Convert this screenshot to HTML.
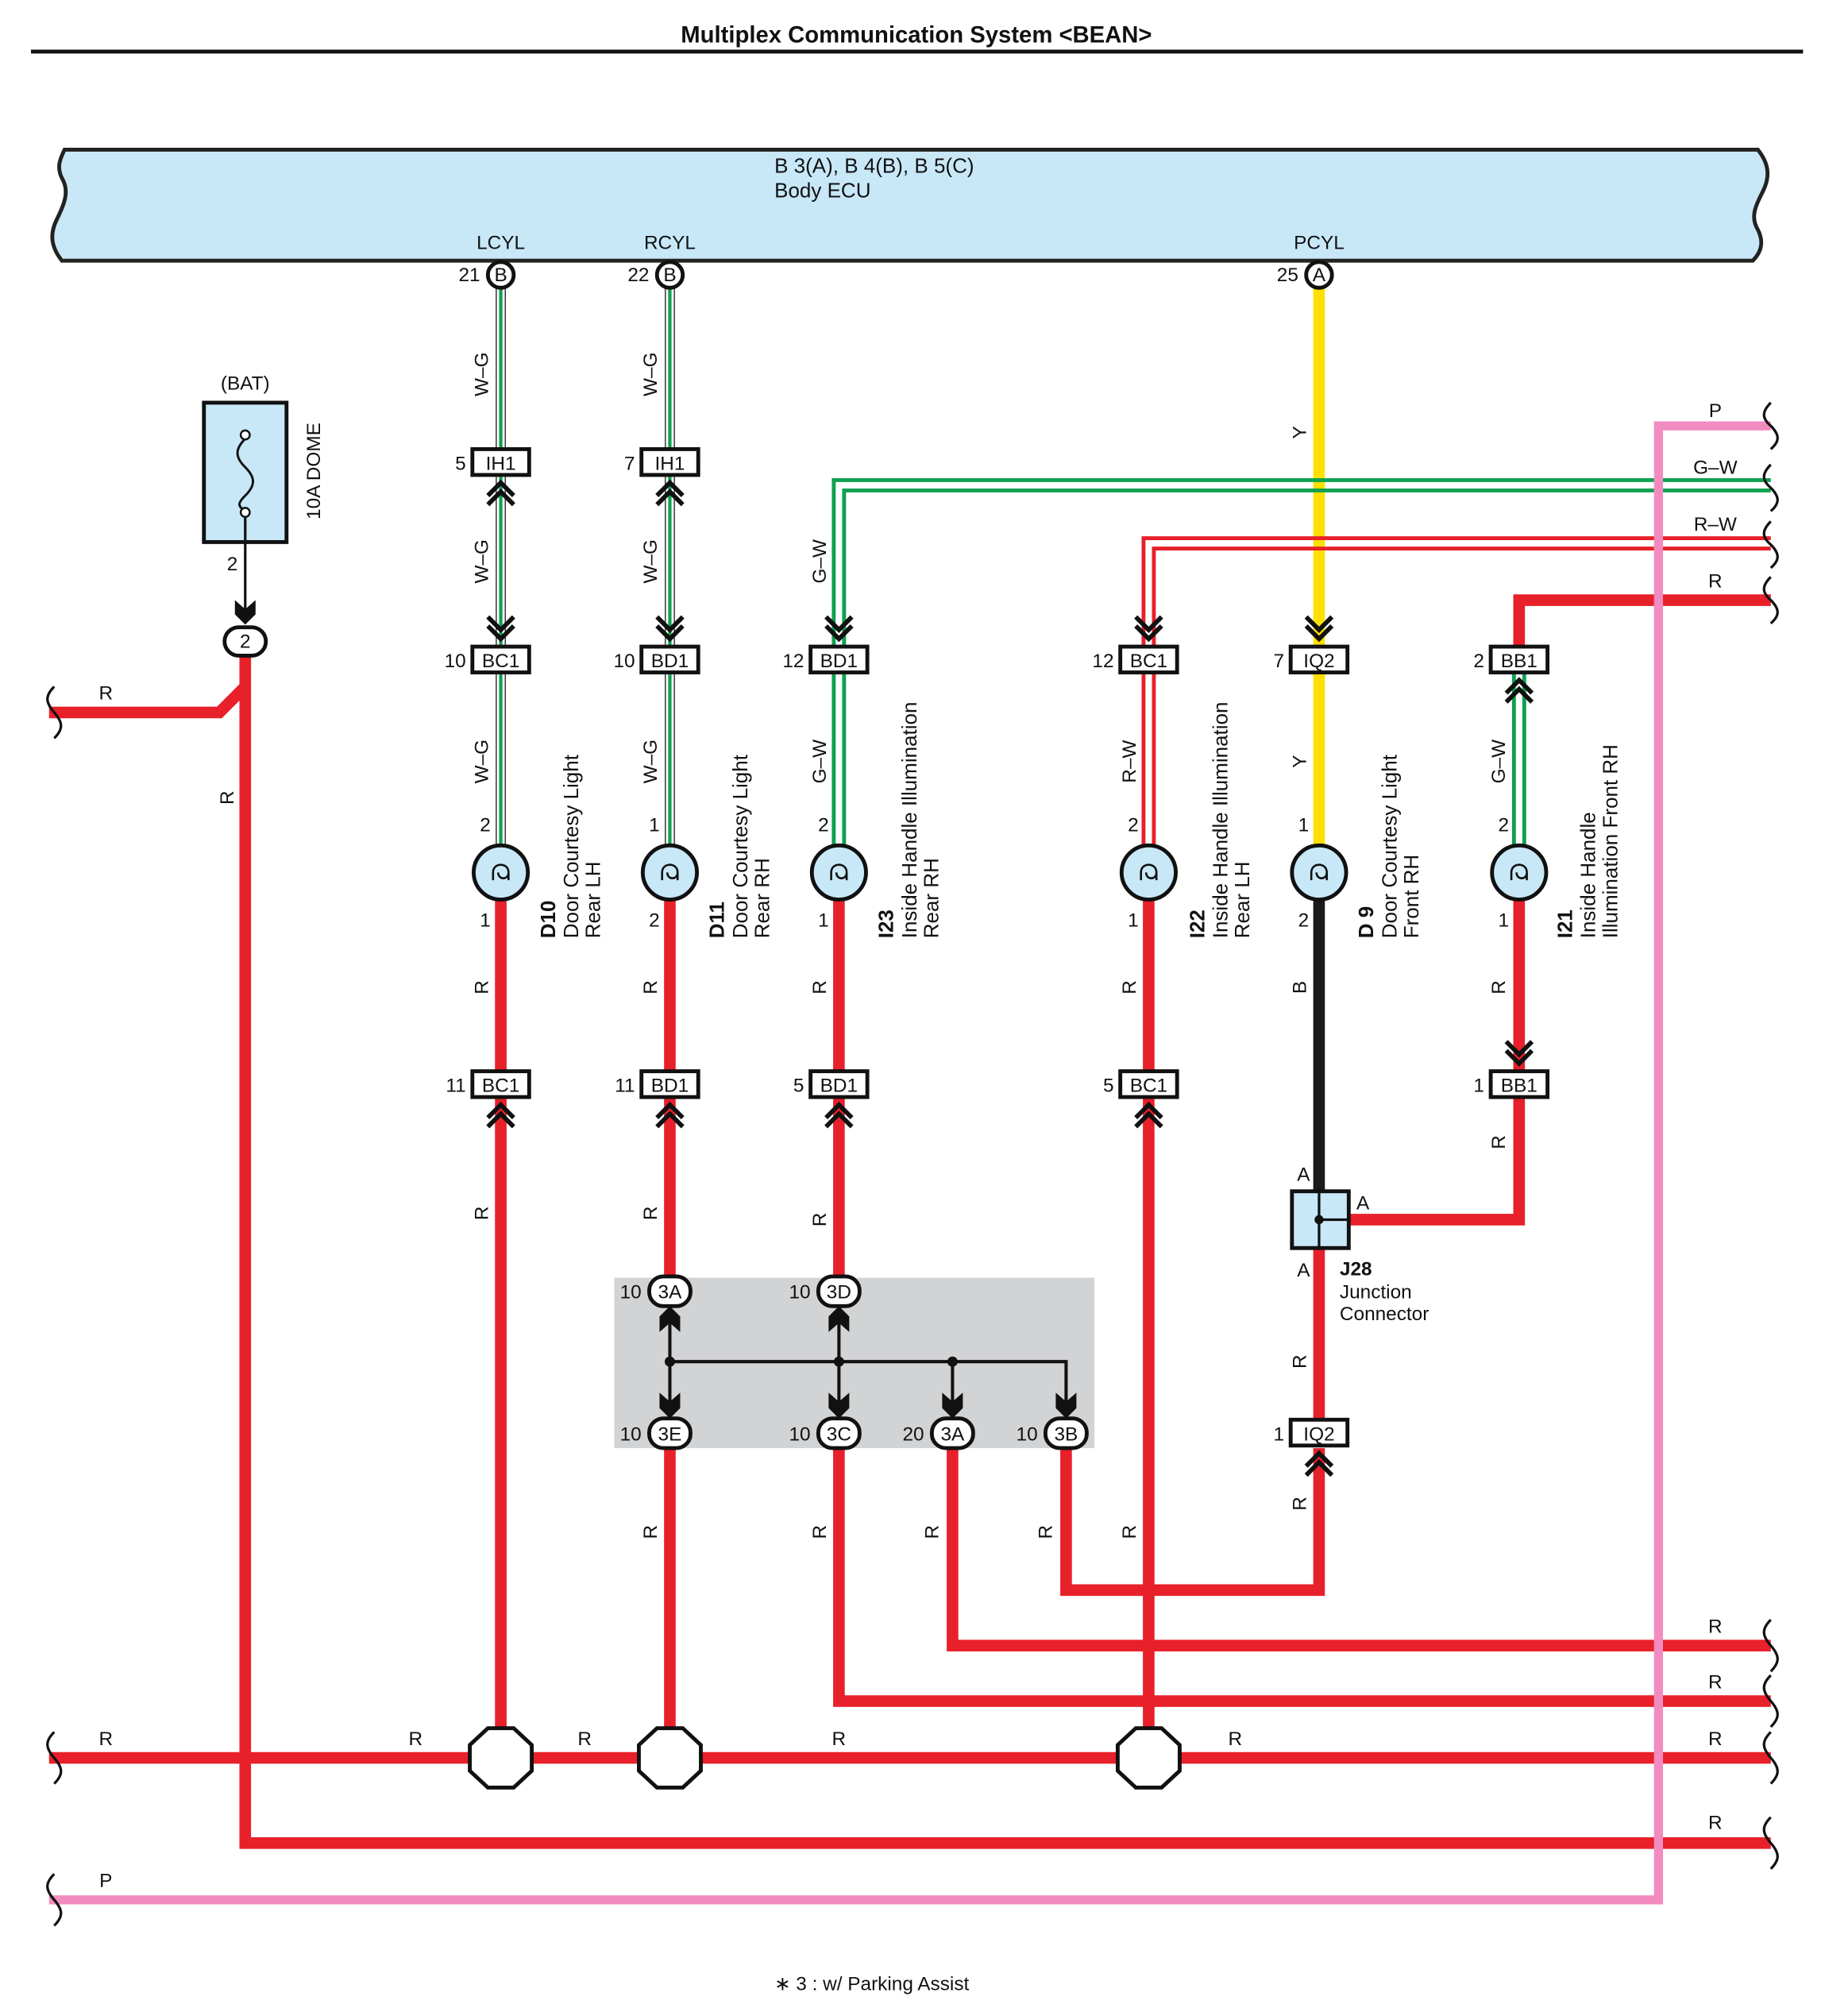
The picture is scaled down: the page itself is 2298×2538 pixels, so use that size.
<!DOCTYPE html>
<html><head><meta charset="utf-8">
<style>
html,body{margin:0;padding:0;background:#fff;}
svg{display:block;}
text{font-family:"Liberation Sans",sans-serif;fill:#111;}
[font-size="14"]{font-size:15px;}
[font-size="15"]{font-size:16px;}
</style></head>
<body>
<svg width="2298" height="2538" viewBox="0 0 1414 1562" preserveAspectRatio="none" xmlns="http://www.w3.org/2000/svg">
<rect width="1414" height="1562" fill="#fff"/>
<text x="710" y="33" font-size="18" font-weight="bold" text-anchor="middle">Multiplex Communication System &lt;BEAN&gt;</text>
<line x1="24" y1="40" x2="1397" y2="40" stroke="#111" stroke-width="3"/>

<path d="M50,116 H1362 c8,10 10,20 4,32 c-6,12 -10,20 -4,30 c4,8 4,16 -4,24 H48 c-8,-10 -10,-20 -4,-32 c6,-12 10,-22 4,-32 c-4,-8 -2,-14 2,-22 Z" fill="#c8e8f8" stroke="#222" stroke-width="3"/>
<text x="600" y="134" font-size="15">B 3(A), B 4(B), B 5(C)</text>
<text x="600" y="153" font-size="15">Body ECU</text>
<text x="388" y="193" font-size="14" text-anchor="middle">LCYL</text>
<text x="519" y="193" font-size="14" text-anchor="middle">RCYL</text>
<text x="1022" y="193" font-size="14" text-anchor="middle">PCYL</text>

<rect x="476" y="990" width="372" height="132" fill="#d2d3d5"/>

<g fill="none" stroke-linejoin="miter">
<g stroke="#e8202a" stroke-width="9">
<path d="M38,552 H170 L190,532"/>
<path d="M190,508 V1428 H1372"/>
<path d="M38,1362 H1372"/>
<path d="M388,698 V1362"/>
<path d="M890,698 V1362"/>
<path d="M519,698 V990"/>
<path d="M519,1122 V1362"/>
<path d="M650,698 V990"/>
<path d="M650,1122 V1318 H1372"/>
<path d="M738,1122 V1275 H1372"/>
<path d="M826,1122 V1232 H1022 V1122"/>
<path d="M1022,967 V1100"/>
<path d="M1045,945 H1177 V850"/>
<path d="M1372,465 H1177 V501"/>
<path d="M1177,698 V830"/>
</g>
<path d="M1022,223 V655" stroke="#ffe000" stroke-width="9"/>
<path d="M1022,698 V923" stroke="#1a1a1a" stroke-width="9"/>
<g>
<path d="M384.5,223 V655 M391.5,223 V655" stroke="#333" stroke-width="0.9"/>
<path d="M388,223 V655" stroke="#10a050" stroke-width="2.6"/>
<path d="M515.5,223 V655 M522.5,223 V655" stroke="#333" stroke-width="0.9"/>
<path d="M519,223 V655" stroke="#10a050" stroke-width="2.6"/>
</g>
<g stroke="#10a050" stroke-width="3">
<path d="M1372,372 H646 V501"/>
<path d="M1372,380 H654 V501"/>
<path d="M646,521 V657 M654,521 V657"/>
<path d="M1173,521 V657 M1181,521 V657"/>
</g>
<g stroke="#e8202a" stroke-width="3">
<path d="M1372,417 H886 V501"/>
<path d="M1372,425 H894 V501"/>
<path d="M886,521 V657 M894,521 V657"/>
</g>
<path d="M1372,330 H1285 V1472 H38" stroke="#f28cc0" stroke-width="7"/>
<g stroke="#111" stroke-width="2.5">
<path d="M519,1020 V1090 M650,1020 V1090 M519,1055 H826 V1090 M738,1055 V1090"/>
</g>
</g>
<g fill="#111">
<circle cx="519" cy="1055" r="4"/><circle cx="650" cy="1055" r="4"/><circle cx="738" cy="1055" r="4"/>
<polygon points="519,1012 527,1020 527,1032 519,1025 511,1032 511,1020"/>
<polygon points="650,1012 658,1020 658,1032 650,1025 642,1032 642,1020"/>
<polygon points="519,1099 527,1091 527,1079 519,1086 511,1079 511,1091"/>
<polygon points="650,1099 658,1091 658,1079 650,1086 642,1079 642,1091"/>
<polygon points="738,1099 746,1091 746,1079 738,1086 730,1079 730,1091"/>
<polygon points="826,1099 834,1091 834,1079 826,1086 818,1079 818,1091"/>
</g>

<g stroke="#111" stroke-width="3" fill="#fff">
<circle cx="388" cy="213" r="10"/><circle cx="519" cy="213" r="10"/><circle cx="1022" cy="213" r="10"/>
</g>
<g font-size="14" text-anchor="middle">
<text x="388" y="218">B</text><text x="519" y="218">B</text><text x="1022" y="218">A</text>
</g>
<g font-size="14" text-anchor="end">
<text x="372" y="218">21</text><text x="503" y="218">22</text><text x="1006" y="218">25</text>
</g>

<g stroke="#111" stroke-width="3" fill="#fff">
<rect x="366" y="348" width="44" height="20"/>
<rect x="497" y="348" width="44" height="20"/>
<rect x="366" y="501" width="44" height="20"/>
<rect x="497" y="501" width="44" height="20"/>
<rect x="628" y="501" width="44" height="20"/>
<rect x="868" y="501" width="44" height="20"/>
<rect x="1000" y="501" width="44" height="20"/>
<rect x="1155" y="501" width="44" height="20"/>
<rect x="366" y="830" width="44" height="20"/>
<rect x="497" y="830" width="44" height="20"/>
<rect x="628" y="830" width="44" height="20"/>
<rect x="868" y="830" width="44" height="20"/>
<rect x="1155" y="830" width="44" height="20"/>
<rect x="1000" y="1100" width="44" height="20"/>
</g>
<g font-size="14" text-anchor="middle">
<text x="388" y="364">IH1</text><text x="519" y="364">IH1</text>
<text x="388" y="517">BC1</text><text x="519" y="517">BD1</text><text x="650" y="517">BD1</text><text x="890" y="517">BC1</text><text x="1022" y="517">IQ2</text><text x="1177" y="517">BB1</text>
<text x="388" y="846">BC1</text><text x="519" y="846">BD1</text><text x="650" y="846">BD1</text><text x="890" y="846">BC1</text><text x="1177" y="846">BB1</text>
<text x="1022" y="1116">IQ2</text>
</g>
<g font-size="14" text-anchor="end">
<text x="361" y="364">5</text><text x="492" y="364">7</text>
<text x="361" y="517">10</text><text x="492" y="517">10</text><text x="623" y="517">12</text><text x="863" y="517">12</text><text x="995" y="517">7</text><text x="1150" y="517">2</text>
<text x="361" y="846">11</text><text x="492" y="846">11</text><text x="623" y="846">5</text><text x="863" y="846">5</text><text x="1150" y="846">1</text>
<text x="995" y="1116">1</text>
</g>

<g fill="none" stroke="#111" stroke-width="3.5">
<path d="M378,384 L388,374 L398,384 M378,391 L388,381 L398,391"/>
<path d="M509,384 L519,374 L529,384 M509,391 L519,381 L529,391"/>
<path d="M1167,537 L1177,527 L1187,537 M1167,544 L1177,534 L1187,544"/>
<path d="M378,866 L388,856 L398,866 M378,873 L388,863 L398,873"/>
<path d="M509,866 L519,856 L529,866 M509,873 L519,863 L529,873"/>
<path d="M640,866 L650,856 L660,866 M640,873 L650,863 L660,873"/>
<path d="M880,866 L890,856 L900,866 M880,873 L890,863 L900,873"/>
<path d="M1012,1136 L1022,1126 L1032,1136 M1012,1143 L1022,1133 L1032,1143"/>
<path d="M378,478 L388,488 L398,478 M378,485 L388,495 L398,485"/>
<path d="M509,478 L519,488 L529,478 M509,485 L519,495 L529,485"/>
<path d="M640,478 L650,488 L660,478 M640,485 L650,495 L660,485"/>
<path d="M880,478 L890,488 L900,478 M880,485 L890,495 L900,485"/>
<path d="M1012,478 L1022,488 L1032,478 M1012,485 L1022,495 L1032,485"/>
<path d="M1167,807 L1177,817 L1187,807 M1167,814 L1177,824 L1187,814"/>
</g>

<g stroke="#111" stroke-width="3" fill="#c8e8f8">
<circle cx="388" cy="676" r="21"/><circle cx="519" cy="676" r="21"/><circle cx="650" cy="676" r="21"/>
<circle cx="890" cy="676" r="21"/><circle cx="1022" cy="676" r="21"/><circle cx="1177" cy="676" r="21"/>
</g>
<g fill="none" stroke="#111" stroke-width="1.6">
<path d="M382,676 c0,-8 12,-8 12,0 c0,6 -8,6 -8,0 M382,676 v6 M394,676 v6"/>
<path d="M513,676 c0,-8 12,-8 12,0 c0,6 -8,6 -8,0 M513,676 v6 M525,676 v6"/>
<path d="M644,676 c0,-8 12,-8 12,0 c0,6 -8,6 -8,0 M644,676 v6 M656,676 v6"/>
<path d="M884,676 c0,-8 12,-8 12,0 c0,6 -8,6 -8,0 M884,676 v6 M896,676 v6"/>
<path d="M1016,676 c0,-8 12,-8 12,0 c0,6 -8,6 -8,0 M1016,676 v6 M1028,676 v6"/>
<path d="M1171,676 c0,-8 12,-8 12,0 c0,6 -8,6 -8,0 M1171,676 v6 M1183,676 v6"/>
</g>
<g font-size="14" text-anchor="middle">
<text x="376" y="644">2</text><text x="376" y="718">1</text>
<text x="507" y="644">1</text><text x="507" y="718">2</text>
<text x="638" y="644">2</text><text x="638" y="718">1</text>
<text x="878" y="644">2</text><text x="878" y="718">1</text>
<text x="1010" y="644">1</text><text x="1010" y="718">2</text>
<text x="1165" y="644">2</text><text x="1165" y="718">1</text>
</g>

<g font-size="15">
<text transform="translate(430,727) rotate(-90)" font-weight="bold">D10</text>
<text transform="translate(448,727) rotate(-90)">Door Courtesy Light</text>
<text transform="translate(465,727) rotate(-90)">Rear LH</text>
<text transform="translate(561,727) rotate(-90)" font-weight="bold">D11</text>
<text transform="translate(579,727) rotate(-90)">Door Courtesy Light</text>
<text transform="translate(596,727) rotate(-90)">Rear RH</text>
<text transform="translate(692,727) rotate(-90)" font-weight="bold">I23</text>
<text transform="translate(710,727) rotate(-90)">Inside Handle Illumination</text>
<text transform="translate(727,727) rotate(-90)">Rear RH</text>
<text transform="translate(933,727) rotate(-90)" font-weight="bold">I22</text>
<text transform="translate(951,727) rotate(-90)">Inside Handle Illumination</text>
<text transform="translate(968,727) rotate(-90)">Rear LH</text>
<text transform="translate(1064,727) rotate(-90)" font-weight="bold">D 9</text>
<text transform="translate(1082,727) rotate(-90)">Door Courtesy Light</text>
<text transform="translate(1099,727) rotate(-90)">Front RH</text>
<text transform="translate(1218,727) rotate(-90)" font-weight="bold">I21</text>
<text transform="translate(1236,727) rotate(-90)">Inside Handle</text>
<text transform="translate(1253,727) rotate(-90)">Illumination Front RH</text>
</g>

<g font-size="14" text-anchor="middle">
<text transform="translate(378,290) rotate(-90)">W–G</text>
<text transform="translate(378,435) rotate(-90)">W–G</text>
<text transform="translate(378,590) rotate(-90)">W–G</text>
<text transform="translate(509,290) rotate(-90)">W–G</text>
<text transform="translate(509,435) rotate(-90)">W–G</text>
<text transform="translate(509,590) rotate(-90)">W–G</text>
<text transform="translate(640,435) rotate(-90)">G–W</text>
<text transform="translate(640,590) rotate(-90)">G–W</text>
<text transform="translate(880,590) rotate(-90)">R–W</text>
<text transform="translate(1166,590) rotate(-90)">G–W</text>
<text transform="translate(1012,335) rotate(-90)">Y</text>
<text transform="translate(1012,590) rotate(-90)">Y</text>
<text transform="translate(1012,765) rotate(-90)">B</text>
<text transform="translate(1012,1055) rotate(-90)">R</text>
<text transform="translate(1012,1165) rotate(-90)">R</text>
<text transform="translate(1166,765) rotate(-90)">R</text>
<text transform="translate(1166,885) rotate(-90)">R</text>
<text transform="translate(378,765) rotate(-90)">R</text>
<text transform="translate(378,940) rotate(-90)">R</text>
<text transform="translate(509,765) rotate(-90)">R</text>
<text transform="translate(509,940) rotate(-90)">R</text>
<text transform="translate(640,765) rotate(-90)">R</text>
<text transform="translate(640,945) rotate(-90)">R</text>
<text transform="translate(880,765) rotate(-90)">R</text>
<text transform="translate(880,1187) rotate(-90)">R</text>
<text transform="translate(509,1187) rotate(-90)">R</text>
<text transform="translate(640,1187) rotate(-90)">R</text>
<text transform="translate(727,1187) rotate(-90)">R</text>
<text transform="translate(815,1187) rotate(-90)">R</text>
<text transform="translate(181,618) rotate(-90)">R</text>
<text transform="translate(248,365) rotate(-90)">10A DOME</text>
</g>
<g font-size="14" text-anchor="middle">
<text x="82" y="542">R</text><text x="82" y="1352">R</text><text x="322" y="1352">R</text><text x="453" y="1352">R</text>
<text x="650" y="1352">R</text><text x="957" y="1352">R</text><text x="82" y="1462">P</text>
<text x="1329" y="323">P</text><text x="1329" y="367">G–W</text><text x="1329" y="411">R–W</text><text x="1329" y="455">R</text>
<text x="1329" y="1265">R</text><text x="1329" y="1308">R</text><text x="1329" y="1352">R</text><text x="1329" y="1417">R</text>
</g>

<g stroke="#111" stroke-width="3" fill="#fff">
<polygon points="378,1339 398,1339 412,1352 412,1372 398,1385 378,1385 364,1372 364,1352"/>
<polygon points="509,1339 529,1339 543,1352 543,1372 529,1385 509,1385 495,1372 495,1352"/>
<polygon points="880,1339 900,1339 914,1352 914,1372 900,1385 880,1385 866,1372 866,1352"/>
</g>

<g stroke="#111" stroke-width="3" fill="#fff">
<rect x="503" y="989" width="32" height="23" rx="11"/>
<rect x="634" y="989" width="32" height="23" rx="11"/>
<rect x="503" y="1099" width="32" height="23" rx="11"/>
<rect x="634" y="1099" width="32" height="23" rx="11"/>
<rect x="722" y="1099" width="32" height="23" rx="11"/>
<rect x="810" y="1099" width="32" height="23" rx="11"/>
</g>
<g font-size="14" text-anchor="middle">
<text x="519" y="1006">3A</text><text x="650" y="1006">3D</text>
<text x="519" y="1116">3E</text><text x="650" y="1116">3C</text><text x="738" y="1116">3A</text><text x="826" y="1116">3B</text>
</g>
<g font-size="14" text-anchor="end">
<text x="497" y="1006">10</text><text x="628" y="1006">10</text>
<text x="497" y="1116">10</text><text x="628" y="1116">10</text><text x="716" y="1116">20</text><text x="804" y="1116">10</text>
</g>

<rect x="1001" y="923" width="44" height="44" fill="#c8e8f8" stroke="#111" stroke-width="3"/>
<path d="M1022,923 V967 M1022,945 H1045" stroke="#111" stroke-width="2"/>
<circle cx="1022" cy="945" r="3.5" fill="#111"/>
<g font-size="14">
<text x="1005" y="915">A</text><text x="1051" y="937">A</text><text x="1005" y="989">A</text>
<text x="1038" y="988" font-weight="bold">J28</text>
<text x="1038" y="1006">Junction</text>
<text x="1038" y="1023">Connector</text>
</g>

<text x="190" y="302" font-size="14" text-anchor="middle">(BAT)</text>
<rect x="158" y="312" width="64" height="108" fill="#c8e8f8" stroke="#111" stroke-width="3"/>
<path d="M190,340 c-8,8 -8,14 0,22 c8,8 8,14 0,22 c-6,6 -6,8 0,12" fill="none" stroke="#111" stroke-width="1.8"/>
<circle cx="190" cy="337" r="3.5" fill="#fff" stroke="#111" stroke-width="1.5"/>
<circle cx="190" cy="397" r="3.5" fill="#fff" stroke="#111" stroke-width="1.5"/>
<path d="M190,400 V480" stroke="#111" stroke-width="2"/>
<polygon points="190,484 198,476 198,465 190,472 182,465 182,476" fill="#111"/>
<text x="180" y="442" font-size="14" text-anchor="middle">2</text>
<rect x="174" y="486" width="32" height="22" rx="11" fill="#fff" stroke="#111" stroke-width="3"/>
<text x="190" y="502" font-size="14" text-anchor="middle">2</text>

<g fill="none" stroke="#111" stroke-width="2">
<path d="M42,532 c-7,7 -7,12 0,20 c7,8 7,13 0,20"/>
<path d="M42,1342 c-7,7 -7,12 0,20 c7,8 7,13 0,20"/>
<path d="M42,1452 c-7,7 -7,12 0,20 c7,8 7,13 0,20"/>
<path d="M1372,312 c-7,7 -7,12 0,18 c7,7 7,12 0,18"/>
<path d="M1372,360 c-7,7 -7,12 0,18 c7,7 7,12 0,18"/>
<path d="M1372,404 c-7,7 -7,12 0,18 c7,7 7,12 0,18"/>
<path d="M1372,447 c-7,7 -7,12 0,18 c7,7 7,12 0,18"/>
<path d="M1372,1255 c-7,7 -7,12 0,20 c7,8 7,13 0,20"/>
<path d="M1372,1298 c-7,7 -7,12 0,20 c7,8 7,13 0,20"/>
<path d="M1372,1342 c-7,7 -7,12 0,20 c7,8 7,13 0,20"/>
<path d="M1372,1408 c-7,7 -7,12 0,20 c7,8 7,13 0,20"/>
</g>

<text x="600" y="1542" font-size="14">∗ 3 : w/ Parking Assist</text>
</svg>
</body></html>
